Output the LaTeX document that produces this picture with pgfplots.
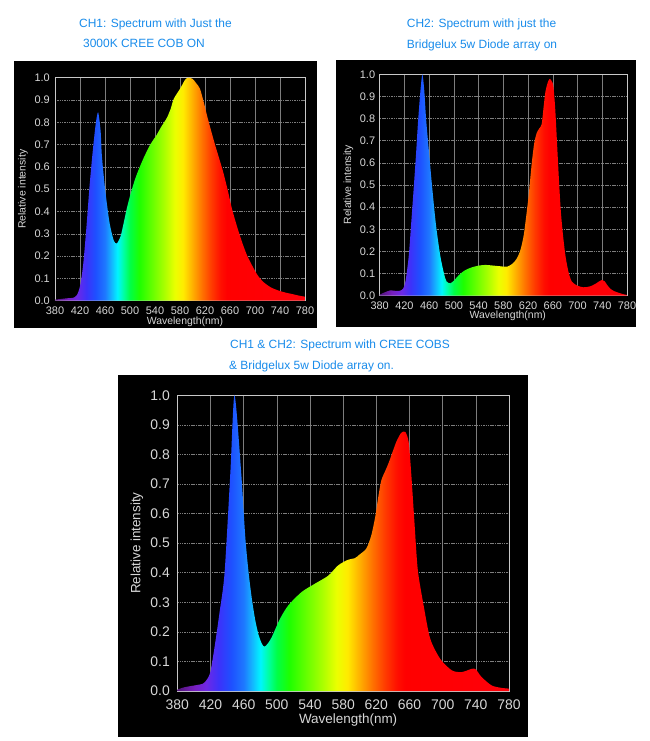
\documentclass[border=0pt]{standalone}
\usepackage{fontspec}
\setmainfont{Liberation Sans}
\usepackage{pgfplots}
\pgfplotsset{compat=1.18}

\definecolor{ttl}{RGB}{25,140,235}
\definecolor{tlab}{RGB}{215,215,215}
\definecolor{gridc}{RGB}{125,125,125}
\definecolor{framec}{RGB}{200,200,200}

\definecolor{s380}{RGB}{80,20,120}
\definecolor{s400}{RGB}{120,30,190}
\definecolor{s415}{RGB}{110,40,230}
\definecolor{s430}{RGB}{60,50,250}
\definecolor{s445}{RGB}{30,80,255}
\definecolor{s460}{RGB}{30,120,255}
\definecolor{s470}{RGB}{20,180,255}
\definecolor{s480}{RGB}{0,245,255}
\definecolor{s490}{RGB}{0,255,160}
\definecolor{s500}{RGB}{0,255,70}
\definecolor{s515}{RGB}{30,255,0}
\definecolor{s535}{RGB}{100,255,0}
\definecolor{s555}{RGB}{170,255,0}
\definecolor{s572}{RGB}{235,255,0}
\definecolor{s585}{RGB}{255,235,0}
\definecolor{s600}{RGB}{255,175,0}
\definecolor{s615}{RGB}{255,115,0}
\definecolor{s630}{RGB}{255,60,0}
\definecolor{s645}{RGB}{255,15,0}
\definecolor{s655}{RGB}{255,0,0}
\definecolor{s780}{RGB}{255,0,10}

% wavelength l maps to 25 + (l-380)*0.125 bp
\pgfdeclarehorizontalshading{spectrum}{100bp}{%
color(0bp)=(s380); color(25bp)=(s380); color(27.5bp)=(s400);
color(29.375bp)=(s415); color(31.25bp)=(s430); color(33.125bp)=(s445);
color(35bp)=(s460); color(36.25bp)=(s470); color(37.5bp)=(s480);
color(38.75bp)=(s490); color(40bp)=(s500); color(41.875bp)=(s515);
color(44.375bp)=(s535); color(46.875bp)=(s555); color(49bp)=(s572);
color(50.625bp)=(s585); color(52.5bp)=(s600); color(54.375bp)=(s615);
color(56.25bp)=(s630); color(58.125bp)=(s645); color(59.375bp)=(s655);
color(75bp)=(s780); color(100bp)=(s780)}

\pgfplotstableread{
l v
380 0.005
390 0.008
400 0.011
409 0.013
415 0.025
420 0.065
425 0.16
430 0.32
435 0.505
440 0.66
445 0.79
449 0.845
453 0.76
455 0.65
460 0.505
467 0.354
474 0.27
479 0.257
485 0.29
490 0.35
495 0.415
502 0.49
510 0.56
521 0.635
532 0.698
543 0.745
550 0.78
559 0.82
565 0.86
570 0.905
580 0.95
588 0.99
593 1.0
600 0.995
606 0.975
612 0.95
618 0.89
623 0.833
630 0.76
636 0.70
643 0.635
649 0.578
656 0.50
663 0.414
671 0.335
679 0.265
687 0.205
695 0.16
704 0.115
713 0.085
724 0.062
735 0.048
748 0.037
761 0.029
770 0.023
780 0.018
}\chone

\pgfplotstableread{
l v
380 0.005
388 0.015
397 0.024
405 0.022
412 0.022
418 0.032
422 0.07
427 0.18
431 0.33
435 0.486
439 0.65
442 0.786
446 0.93
449 1.0
452 0.93
455 0.80
460 0.64
465 0.486
471 0.32
478 0.18
484 0.10
488 0.065
494 0.056
500 0.068
508 0.093
518 0.115
529 0.128
540 0.136
551 0.139
560 0.137
575 0.133
586 0.131
595 0.145
602 0.169
608 0.21
613 0.274
617 0.36
621 0.455
626 0.60
630 0.69
634 0.735
638 0.755
642 0.775
645 0.85
648 0.921
652 0.965
655 0.979
658 0.97
661 0.945
664 0.84
667 0.68
670 0.52
673 0.38
677 0.26
681 0.17
686 0.10
691 0.063
700 0.045
710 0.038
720 0.042
728 0.052
735 0.065
740 0.071
744 0.065
748 0.048
753 0.032
759 0.021
770 0.01
780 0.003
}\chtwo

\pgfplotstableread{
l v
380 0.005
389 0.013
401 0.019
411 0.025
416 0.04
420 0.066
425 0.15
431 0.267
437 0.40
444 0.74
449 1.0
457 0.74
462 0.52
466 0.40
470 0.31
474 0.24
478 0.19
482 0.16
485 0.15
489 0.16
494 0.183
504 0.245
514 0.29
530 0.335
546 0.363
562 0.39
574 0.425
586 0.444
594 0.449
600 0.462
608 0.482
614 0.527
619 0.594
622 0.65
626 0.712
632 0.752
636 0.78
644 0.842
650 0.873
655 0.876
659 0.842
662 0.74
666 0.57
670 0.41
677 0.29
685 0.177
697 0.109
711 0.07
723 0.064
735 0.075
740 0.073
747 0.047
759 0.019
770 0.011
780 0.008
}\chboth

\pgfplotsset{
  specaxis/.style={
    scale only axis,
    anchor=south west,
    xmin=380, xmax=780, ymin=0, ymax=1,
    xtick={380,420,460,500,540,580,620,660,700,740,780},
    ytick={0,0.1,0.2,0.3,0.4,0.5,0.6,0.7,0.8,0.9,1.0},
    yticklabel style={/pgf/number format/fixed,/pgf/number format/fixed zerofill,/pgf/number format/precision=1},
    /pgf/number format/assume math mode=true,
    major tick length=0pt,
    grid=major,
    x grid style={gridc, line width=0.6bp},
    y grid style={gridc, line width=0.6bp, dash pattern=on 1.5bp off 0.8bp},
    axis line style={framec, line width=0.8bp},
    tick label style={tlab, inner sep=0pt},
    xticklabel style={anchor=north},
    yticklabel style={anchor=east},
    label style={tlab, inner sep=0pt},
    xlabel={Wavelength(nm)},
    ylabel={Relative intensity},
  },
  specplot/.style={draw=none, shade, shading=spectrum, smooth, tension=0.45}
}

\begin{document}
\begin{tikzpicture}
\useasboundingbox (0,0) rectangle (650bp,-741bp);
\fill[white] (0,0) rectangle (650bp,-741bp);
\fill[black] (14bp,-61bp) rectangle (317bp,-328bp);
\fill[black] (336bp,-60bp) rectangle (636bp,-327bp);
\fill[black] (118bp,-375bp) rectangle (528bp,-737bp);

\begin{scope}[every node/.style={text=ttl, inner sep=0pt, font=\fontsize{12}{14}\selectfont}]
\node[anchor=base west] at (79bp,-27bp) {CH1: Spectrum with Just the};
\node[anchor=base west] at (83bp,-47bp) {3000K CREE COB ON};
\node[anchor=base west] at (406.7bp,-27bp) {CH2: Spectrum with just the};
\node[anchor=base west] at (406.7bp,-48.3bp) {Bridgelux 5w Diode array on};
\node[anchor=base west] at (230bp,-348.7bp) {CH1 \& CH2: Spectrum with CREE COBS};
\node[anchor=base west] at (229bp,-369.3bp) {\& Bridgelux 5w Diode array on.};
\end{scope}

% Panel 1
\begin{axis}[specaxis,
  at={(55bp,-300.7bp)}, width=250bp, height=223bp,
  tick label style={font=\fontsize{11}{12}\selectfont},
  label style={font=\fontsize{10.5}{12}\selectfont},
  xticklabel shift=6.3bp, yticklabel shift=5bp,
  xlabel style={at={(axis description cs:0.52,-0.072)}, anchor=north},
  ylabel style={at={(axis description cs:-0.128,0.5)}, anchor=center},
]
\addplot[specplot] table[x=l,y=v] {\chone} \closedcycle;
\end{axis}

% Panel 2
\begin{axis}[specaxis,
  at={(379.7bp,-295.7bp)}, width=247.3bp, height=221.4bp,
  tick label style={font=\fontsize{11}{12}\selectfont},
  label style={font=\fontsize{10.5}{12}\selectfont},
  xticklabel shift=5.5bp, yticklabel shift=4.4bp,
  xlabel style={at={(axis description cs:0.518,-0.069)}, anchor=north},
  ylabel style={at={(axis description cs:-0.127,0.5)}, anchor=center},
]
\addplot[specplot] table[x=l,y=v] {\chtwo} \closedcycle;
\end{axis}

% Panel 3
\begin{axis}[specaxis,
  at={(177.3bp,-691bp)}, width=331.7bp, height=295.7bp,
  tick label style={font=\fontsize{14}{15}\selectfont},
  label style={font=\fontsize{13.5}{15}\selectfont},
  xticklabel shift=9bp, yticklabel shift=7.3bp,
  xlabel style={at={(axis description cs:0.515,-0.076)}, anchor=north},
  ylabel style={at={(axis description cs:-0.122,0.5)}, anchor=center},
]
\addplot[specplot] table[x=l,y=v] {\chboth} \closedcycle;
\end{axis}
\end{tikzpicture}
\end{document}
